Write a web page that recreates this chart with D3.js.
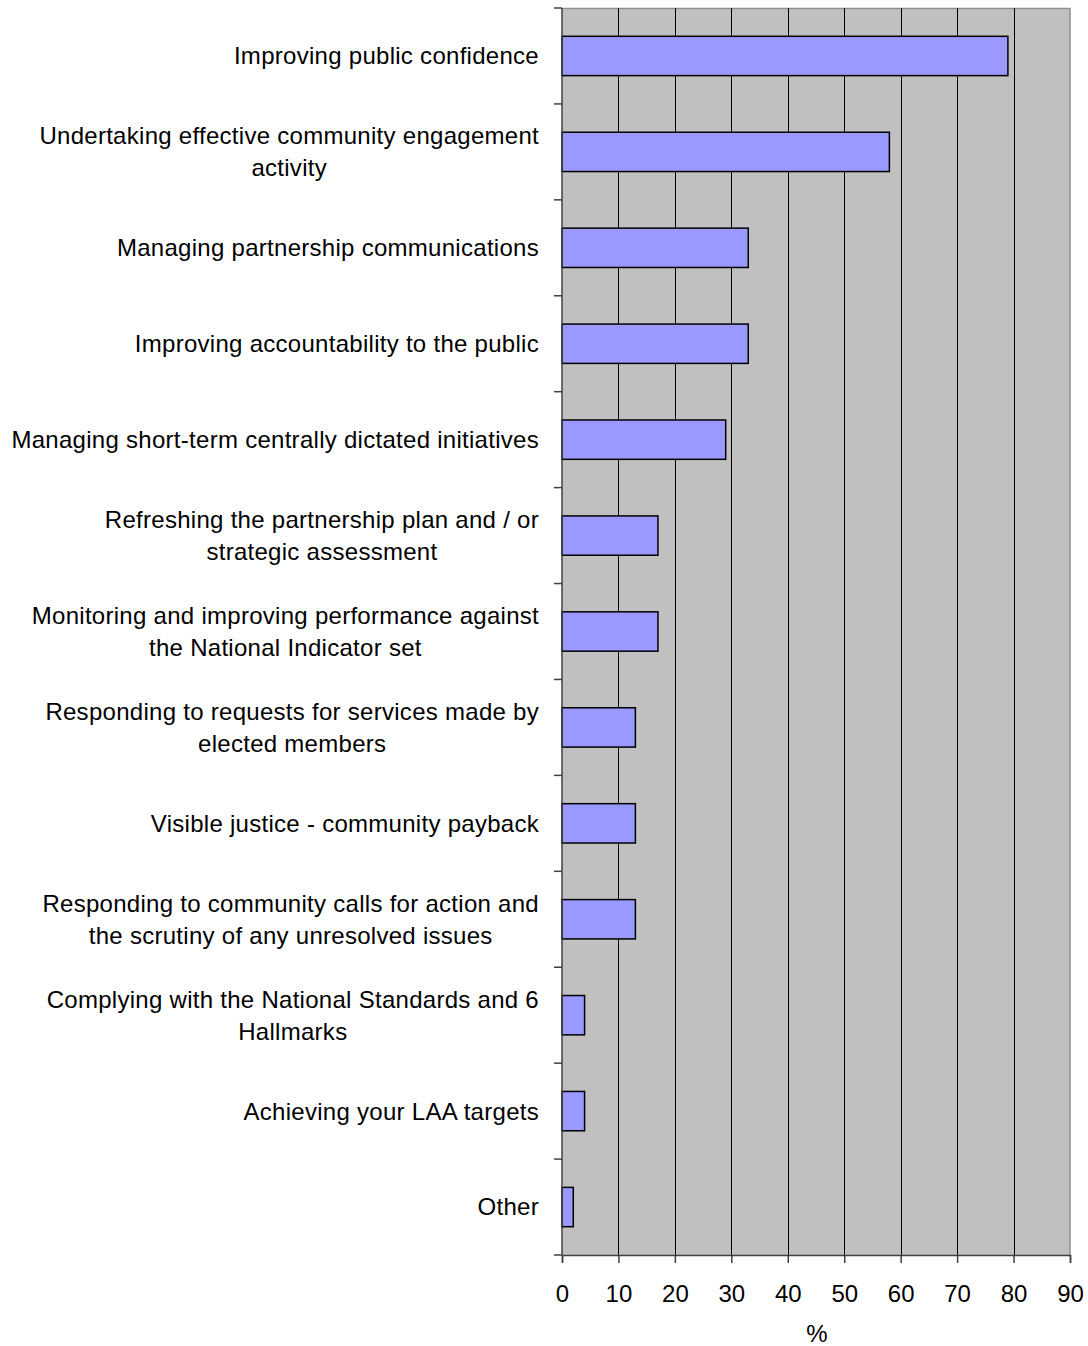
<!DOCTYPE html>
<html>
<head>
<meta charset="utf-8">
<script src="https://cdn.jsdelivr.net/npm/d3@7"></script>
<style>
  html, body { margin: 0; padding: 0; background: #fff; }
  text { font-family: "Liberation Sans", Arial, sans-serif; fill: #000; }
</style>
</head>
<body>
<svg id="chart" width="1088" height="1346"></svg>
<script>
// Priorities (wrapped label lines) and share of respondents, %
const categories = [
  ["Improving public confidence"],
  ["Undertaking effective community engagement", "activity"],
  ["Managing partnership communications"],
  ["Improving accountability to the public"],
  ["Managing short-term centrally dictated initiatives"],
  ["Refreshing the partnership plan and / or", "strategic assessment"],
  ["Monitoring and improving performance against", "the National Indicator set"],
  ["Responding to requests for services made by", "elected members"],
  ["Visible justice - community payback"],
  ["Responding to community calls for action and", "the scrutiny of any unresolved issues"],
  ["Complying with the National Standards and 6", "Hallmarks"],
  ["Achieving your LAA targets"],
  ["Other"]
];
const values = [79, 58, 33, 33, 29, 17, 17, 13, 13, 13, 4, 4, 2];
const xTicks = [0, 10, 20, 30, 40, 50, 60, 70, 80, 90];
const xTitle = "%";

const FONT = 24;
const svg = d3.select("#chart");
const plot = { left: 562, right: 1070, top: 8, bottom: 1255 };

const x = d3.scaleLinear().domain([0, 90]).range([plot.left, plot.right]);
const y = d3.scaleBand()
  .domain(d3.range(categories.length))
  .range([plot.top, plot.bottom])
  .paddingInner(0.59)
  .paddingOuter(0.295);
const band = d3.scaleBand().domain(d3.range(categories.length)).range([plot.top, plot.bottom]);

// plot background
svg.append("rect")
  .attr("x", plot.left).attr("y", plot.top)
  .attr("width", plot.right - plot.left).attr("height", plot.bottom - plot.top)
  .attr("fill", "#c0c0c0");

// frame top/right
svg.append("path")
  .attr("d", `M${plot.left},${plot.top + 0.5}H${plot.right}V${plot.bottom}`)
  .attr("fill", "none").attr("stroke", "#909090").attr("stroke-width", 1.5);

// vertical gridlines
svg.append("g")
  .selectAll("line")
  .data(xTicks.filter(d => d > 0 && d < 90))
  .join("line")
  .attr("x1", d => Math.round(x(d)) + 0.5).attr("x2", d => Math.round(x(d)) + 0.5)
  .attr("y1", plot.top).attr("y2", plot.bottom)
  .attr("stroke", "#000").attr("stroke-width", 1);

// bars
svg.append("g")
  .selectAll("rect")
  .data(values)
  .join("rect")
  .attr("x", x(0))
  .attr("y", (d, i) => y(i))
  .attr("width", d => x(d) - x(0))
  .attr("height", y.bandwidth())
  .attr("fill", "#9999ff")
  .attr("stroke", "#000")
  .attr("stroke-width", 1.5);

// x axis
const xAxis = svg.append("g")
  .attr("transform", `translate(0,${plot.bottom})`)
  .call(d3.axisBottom(x).tickValues(xTicks).tickSize(8).tickPadding(22).tickFormat(d3.format("d")));
xAxis.select(".domain").attr("stroke", "#404040").attr("stroke-width", 1.5);
xAxis.selectAll(".tick line").attr("stroke", "#404040").attr("stroke-width", 1.5);
xAxis.selectAll("text")
  .attr("font-family", '"Liberation Sans", Arial, sans-serif')
  .attr("font-size", FONT).attr("fill", "#000");

svg.append("text")
  .attr("x", 817)
  .attr("y", 1342)
  .attr("text-anchor", "middle")
  .attr("font-size", FONT)
  .text(xTitle);

// y axis line and boundary ticks
const yAxis = svg.append("g");
yAxis.append("line")
  .attr("x1", plot.left).attr("x2", plot.left)
  .attr("y1", plot.top).attr("y2", plot.bottom)
  .attr("stroke", "#404040").attr("stroke-width", 1.5);
yAxis.selectAll("line.tk")
  .data(d3.range(categories.length + 1))
  .join("line")
  .attr("class", "tk")
  .attr("x1", plot.left - 8).attr("x2", plot.left)
  .attr("y1", i => i < categories.length ? band(i) : plot.bottom)
  .attr("y2", i => i < categories.length ? band(i) : plot.bottom)
  .attr("stroke", "#404040").attr("stroke-width", 1.5);

// category labels: block right-aligned next to the axis, lines centred within the block
const labelRight = 539;
const lineH = 32;
const labels = svg.append("g");
categories.forEach((lines, i) => {
  const g = labels.append("g");
  const cy = band(i) + band.bandwidth() / 2;
  const texts = lines.map((ln, k) =>
    g.append("text")
      .attr("font-size", FONT)
      .attr("letter-spacing", "0.28px")
      .attr("dy", "0.35em")
      .attr("y", cy + (k - (lines.length - 1) / 2) * lineH)
      .text(ln));
  const widths = texts.map(t => t.node().getComputedTextLength());
  const w = d3.max(widths);
  const cx = labelRight - w / 2;
  texts.forEach(t => t.attr("x", cx).attr("text-anchor", "middle"));
});
</script>
</body>
</html>
